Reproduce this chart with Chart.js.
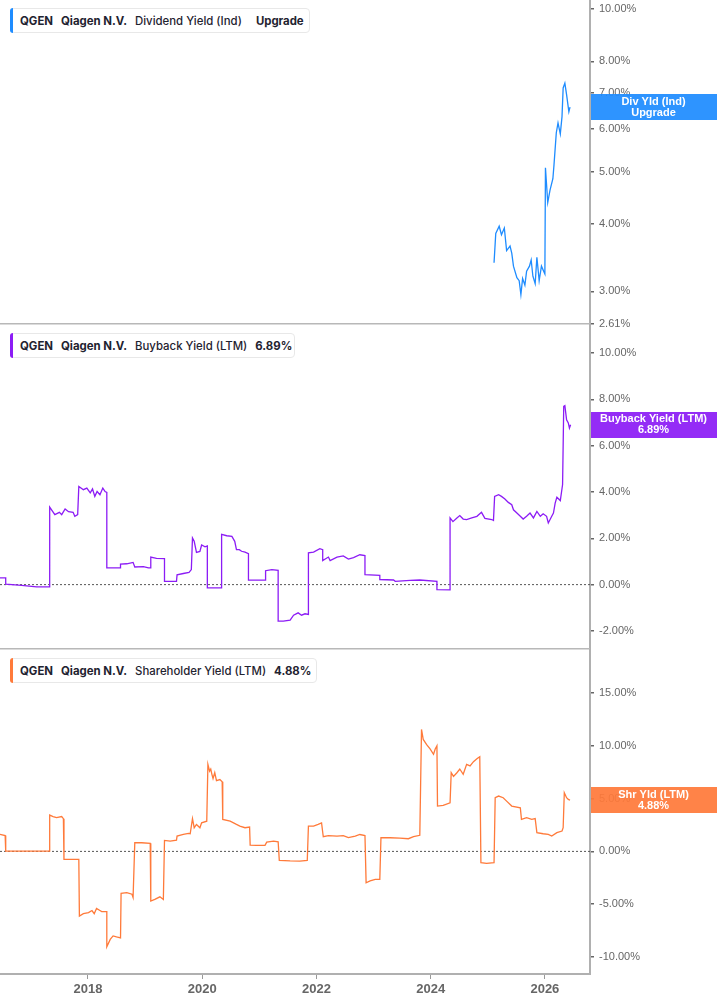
<!DOCTYPE html>
<html><head><meta charset="utf-8">
<script src="https://cdn.jsdelivr.net/npm/chart.js@4.4.1/dist/chart.umd.min.js"></script>
<style>
html,body{margin:0;padding:0;background:#fff;width:717px;height:1005px;overflow:hidden;}
#wrap{position:relative;width:717px;height:1005px;overflow:hidden;}
canvas{position:absolute;left:0;}
.legend{position:absolute;left:10px;height:25px;border:1px solid #e8e8e8;border-radius:4px;background:#fff;display:flex;align-items:center;font-family:Inter,"Noto Sans",sans-serif;font-size:11.4px;color:#1f2330;box-sizing:border-box;padding-left:9px;padding-right:0px;z-index:5;}
.legend .bar{position:absolute;left:-1px;top:-1px;bottom:-1px;width:3px;border-radius:3px 0 0 3px;}
.legend span{white-space:nowrap;margin-right:8px}
.b{font-weight:700}.m{font-weight:500}
</style>
</head><body>
<div id="wrap">
<canvas id="c1" width="717" height="352" style="top:-14px"></canvas>
<canvas id="c2" width="717" height="352" style="top:311px"></canvas>
<canvas id="c3" width="717" height="369" style="top:636px"></canvas>
<div class="legend" style="top:8px;width:300px"><div class="bar" style="background:#1e8cff"></div><span class="b">QGEN</span><span class="b">Qiagen N.V.</span><span class="m" style="margin-right:14px">Dividend Yield (Ind)</span><span class="b">Upgrade</span></div>
<div class="legend" style="top:333px;width:285px"><div class="bar" style="background:#8c1cf5"></div><span class="b">QGEN</span><span class="b">Qiagen N.V.</span><span class="m">Buyback Yield (LTM)</span><span class="b">6.89%</span></div>
<div class="legend" style="top:658px;width:307px"><div class="bar" style="background:#ff7a3a"></div><span class="b">QGEN</span><span class="b">Qiagen N.V.</span><span class="m">Shareholder Yield (LTM)</span><span class="b">4.88%</span></div>
</div>
<script>
// ---- DATA ----
const yearTicks = [2018, 2020, 2022, 2024, 2026];
const divTicks = [2.61, 3, 4, 5, 6, 7, 8, 10];
const bbTicks = [-2, 0, 2, 4, 6, 8, 10];
const shTicks = [-10, -5, 0, 5, 10, 15];

const divYears = [
  2025.11,2025.14,2025.20,2025.24,2025.29,2025.33,2025.39,2025.42,2025.45,2025.51,
  2025.55,2025.58,2025.61,2025.65,2025.68,2025.73,2025.76,2025.79,2025.83,2025.86,
  2025.90,2025.94,2026.00,2026.01,2026.05,2026.09,2026.14,2026.16,2026.20,2026.23,
  2026.27,2026.30,2026.32,2026.35,2026.38,2026.42,2026.44];
const divValues = [
  3.39,3.84,3.96,3.82,3.93,3.57,3.64,3.53,3.34,3.18,
  3.14,2.96,3.17,3.08,3.27,3.34,3.43,3.20,3.10,3.47,
  3.14,3.34,3.23,5.08,4.38,4.62,4.85,5.15,5.90,6.15,
  5.87,6.32,7.14,7.29,6.94,6.45,6.58];

const bbYears = [
  2016.46,2016.56,2016.56,2016.84,2017.10,2017.33,2017.33,2017.42,2017.50,2017.54,
  2017.60,2017.66,2017.74,2017.77,2017.82,2017.84,2017.92,2017.98,2018.04,2018.08,
  2018.12,2018.16,2018.21,2018.26,2018.30,2018.33,2018.33,2018.57,2018.57,2018.68,
  2018.79,2018.82,2018.97,2019.06,2019.10,2019.10,2019.20,2019.34,2019.34,2019.55,
  2019.56,2019.67,2019.77,2019.81,2019.83,2019.86,2019.90,2019.96,2019.99,2020.05,
  2020.09,2020.09,2020.34,2020.34,2020.43,2020.52,2020.57,2020.60,2020.65,2020.69,
  2020.75,2020.81,2020.81,2021.11,2021.11,2021.22,2021.33,2021.33,2021.42,2021.54,
  2021.60,2021.68,2021.74,2021.80,2021.86,2021.86,2021.95,2022.06,2022.11,2022.11,
  2022.21,2022.24,2022.36,2022.47,2022.56,2022.65,2022.76,2022.85,2022.85,2023.11,
  2023.11,2023.35,2023.38,2023.64,2023.81,2024.11,2024.11,2024.34,2024.34,2024.39,
  2024.46,2024.51,2024.57,2024.63,2024.72,2024.81,2024.89,2024.95,2025.07,2025.10,
  2025.12,2025.19,2025.24,2025.30,2025.36,2025.42,2025.45,2025.51,2025.57,2025.62,
  2025.68,2025.74,2025.80,2025.86,2025.92,2025.97,2026.03,2026.06,2026.12,2026.15,
  2026.18,2026.21,2026.27,2026.31,2026.33,2026.35,2026.38,2026.41,2026.43,2026.45];
const bbValues = [
  0.29,0.29,0.02,-0.03,-0.10,-0.10,3.35,3.02,3.12,3.02,
  3.27,3.15,3.12,2.95,3.02,4.24,4.10,4.17,3.96,4.13,
  3.81,4.02,3.88,4.17,4.02,3.98,0.72,0.72,0.89,0.90,
  0.96,0.76,0.78,0.72,0.72,1.19,1.13,1.12,0.14,0.14,
  0.42,0.48,0.53,0.65,2.01,1.87,1.39,1.43,1.71,1.63,
  1.67,-0.14,-0.14,2.17,2.11,2.08,1.87,1.51,1.51,1.44,
  1.40,1.34,0.19,0.19,0.60,0.65,0.62,-1.58,-1.58,-1.53,
  -1.32,-1.22,-1.32,-1.26,-1.29,1.37,1.40,1.55,1.51,1.04,
  1.19,1.04,1.19,1.24,1.10,1.17,1.29,1.25,0.43,0.40,
  0.22,0.20,0.14,0.18,0.20,0.14,-0.22,-0.23,2.88,2.72,
  2.88,2.98,2.83,2.81,2.88,2.95,3.12,2.86,2.81,2.77,
  3.81,3.88,3.81,3.70,3.55,3.45,3.23,3.09,2.95,2.83,
  2.95,3.09,2.88,3.16,2.95,3.06,2.95,2.66,2.95,3.09,
  3.52,3.77,3.63,4.32,7.70,7.73,7.12,6.98,6.76,6.90];

const shYears = [
  2016.46,2016.55,2016.56,2017.32,2017.33,2017.39,2017.45,2017.54,2017.57,2017.58,
  2017.84,2017.85,2017.92,2018.01,2018.07,2018.11,2018.15,2018.21,2018.24,2018.33,
  2018.33,2018.39,2018.44,2018.50,2018.57,2018.58,2018.68,2018.77,2018.79,2018.82,
  2018.94,2019.09,2019.10,2019.17,2019.26,2019.32,2019.34,2019.44,2019.55,2019.56,
  2019.67,2019.76,2019.79,2019.83,2019.86,2019.90,2019.96,2019.99,2020.08,2020.10,
  2020.13,2020.15,2020.17,2020.19,2020.22,2020.25,2020.31,2020.35,2020.36,2020.49,
  2020.60,2020.66,2020.75,2020.83,2020.84,2020.95,2021.10,2021.13,2021.25,2021.33,
  2021.35,2021.54,2021.71,2021.84,2021.86,2021.95,2022.03,2022.09,2022.12,2022.21,
  2022.36,2022.47,2022.56,2022.68,2022.76,2022.85,2022.87,2022.94,2023.03,2023.11,
  2023.13,2023.29,2023.46,2023.61,2023.70,2023.81,2023.84,2023.87,2023.93,2023.99,
  2024.05,2024.08,2024.11,2024.12,2024.22,2024.34,2024.36,2024.40,2024.46,2024.51,
  2024.57,2024.63,2024.69,2024.75,2024.81,2024.86,2024.88,2024.98,2025.11,2025.13,
  2025.19,2025.27,2025.33,2025.42,2025.57,2025.59,2025.68,2025.77,2025.83,2025.86,
  2025.97,2026.06,2026.12,2026.21,2026.30,2026.32,2026.34,2026.38,2026.41,2026.44];
const shValues = [
  1.61,1.50,0.03,0.03,3.44,3.30,3.20,3.30,3.10,-0.76,
  -0.76,-6.12,-5.90,-5.80,-5.60,-5.90,-5.40,-5.60,-5.70,-5.70,
  -9.03,-8.33,-8.00,-8.10,-8.20,-3.98,-3.90,-4.05,-4.36,0.82,
  0.82,0.76,-4.70,-4.55,-4.30,-4.55,1.04,0.98,1.07,1.45,
  1.61,1.70,1.67,3.10,2.24,2.55,2.24,2.70,2.86,8.24,
  7.60,7.80,7.30,6.90,7.45,6.70,6.80,6.60,3.03,2.87,
  2.56,2.40,2.24,2.30,0.60,0.57,0.57,0.88,0.98,0.91,
  -0.85,-0.90,-0.92,-0.85,2.40,2.40,2.56,2.70,1.39,1.50,
  1.45,1.50,1.30,1.45,1.60,1.50,-2.97,-2.80,-2.65,-2.65,
  1.29,1.29,1.26,1.20,1.39,1.52,11.55,10.60,10.10,9.70,
  9.19,9.70,10.00,4.29,4.35,4.60,7.45,7.10,7.45,7.80,
  7.30,8.24,8.10,8.50,8.77,8.97,-1.07,-1.13,-1.07,5.08,
  5.24,5.08,4.76,4.29,4.13,3.03,3.20,3.03,3.10,1.77,
  1.67,1.61,1.45,1.77,1.93,2.24,5.55,5.08,4.92,4.86];

const xMin = 2016.46, xMax = 2026.79;

// ---- helpers ----
function pts(xs, ys){ return xs.map((x,i)=>({x:x, y:ys[i]})); }

const frameLine = {
  id:'frameLine',
  afterDatasetsDraw(chart, args, opts){
    if(!opts || !opts.show) return;
    const {ctx, chartArea} = chart;
    ctx.save();
    ctx.strokeStyle = '#b8b8b8';
    ctx.lineWidth = 1.5;
    ctx.beginPath();
    ctx.moveTo(0, chartArea.bottom - 0.25);
    ctx.lineTo(chartArea.right, chartArea.bottom - 0.25);
    ctx.stroke();
    ctx.restore();
  }
};

const tagBox = {
  id:'tagBox',
  afterDraw(chart, args, opts){
    if(!opts || !opts.lines) return;
    const {ctx, chartArea} = chart;
    const ys = chart.scales.y;
    const cy = ys.getPixelForValue(opts.value);
    const h = 26;
    ctx.save();
    ctx.globalAlpha = 0.93;
    ctx.fillStyle = opts.color;
    ctx.fillRect(chartArea.right + 1, Math.round(cy - h/2), chart.width - chartArea.right, h);
    ctx.globalAlpha = 1;
    ctx.fillStyle = '#ffffff';
    ctx.font = 'bold 11px "Liberation Sans", Arial, sans-serif';
    ctx.textAlign = 'center';
    ctx.textBaseline = 'middle';
    const cx = (chartArea.right + chart.width) / 2;
    ctx.fillText(opts.lines[0], cx, cy - 5.5);
    ctx.fillText(opts.lines[1], cx, cy + 5.5);
    ctx.restore();
  }
};

function yScale(type, min, max, ticks){
  return {
    type: type, position: 'right', min: min, max: max,
    afterBuildTicks: s => { s.ticks = ticks.map(v => ({value: v})); },
    afterFit: s => { s.width = 127; },
    border: {display: true, color: '#b0b0b0', width: 2},
    grid: {display: true, drawOnChartArea: false, drawTicks: true, tickLength: 4, color: '#666', lineWidth: 1.5},
    ticks: {
      autoSkip: false, padding: 5, color: '#666',
      font: {family: '"Liberation Sans", Arial, sans-serif', size: 11},
      callback: v => Number(v).toFixed(2) + '%'
    }
  };
}

function xScale(show){
  return {
    type: 'linear', min: xMin, max: xMax, display: show,
    afterBuildTicks: s => { s.ticks = yearTicks.map(v => ({value: v})); },
    afterFit: s => { s.height = show ? 31 : 0; },
    border: {display: true, color: '#b0b0b0', width: 2},
    grid: {display: true, drawOnChartArea: false, drawTicks: true, tickLength: 5, color: '#999'},
    ticks: {
      autoSkip: false, maxRotation: 0, padding: 3, color: '#666',
      font: {family: '"Liberation Sans", Arial, sans-serif', size: 13, weight: 'bold'},
      callback: v => String(v)
    }
  };
}

function zeroLine(){
  return {
    data: [{x: xMin, y: 0}, {x: xMax, y: 0}],
    borderColor: '#555', borderWidth: 1, borderDash: [2, 2],
    pointRadius: 0, order: 2
  };
}

function line(xs, ys, color){
  return {
    data: pts(xs, ys), borderColor: color, borderWidth: 1.3,
    pointRadius: 0, tension: 0, order: 1
  };
}

function makeChart(id, datasets, y, showX, padding, frame, tag){
  return new Chart(document.getElementById(id), {
    type: 'line',
    data: {datasets: datasets},
    options: {
      responsive: false, animation: false, devicePixelRatio: 1,
      layout: {padding: padding, autoPadding: false},
      plugins: {legend: {display: false}, tooltip: {enabled: false},
        frameLine: {show: frame}, tagBox: tag},
      scales: {x: xScale(showX), y: y}
    },
    plugins: [frameLine, tagBox]
  });
}

// plot areas: top 0-324, middle 325-649, bottom 650-974 (page px)
makeChart('c1', [line(divYears, divValues, '#1e8cff')],
  yScale('logarithmic', 2.61, 10.39, divTicks), false,
  {top: 14, bottom: 14, left: 0, right: 0}, true,
  {color: '#1e8cff', value: divValues[divValues.length-1], lines: ['Div Yld (Ind)', 'Upgrade']});

makeChart('c2', [line(bbYears, bbValues, '#8c1cf5'), zeroLine()],
  yScale('linear', -2.78, 11.21, bbTicks), false,
  {top: 14, bottom: 14, left: 0, right: 0}, true,
  {color: '#8c1cf5', value: bbValues[bbValues.length-1], lines: ['Buyback Yield (LTM)', '6.89%']});

makeChart('c3', [line(shYears, shValues, '#ff7a3a'), zeroLine()],
  yScale('linear', -11.61, 19.07, shTicks), true,
  {top: 14, bottom: 0, left: 0, right: 0}, false,
  {color: '#ff7a3a', value: shValues[shValues.length-1], lines: ['Shr Yld (LTM)', '4.88%']});
</script>
</body></html>
